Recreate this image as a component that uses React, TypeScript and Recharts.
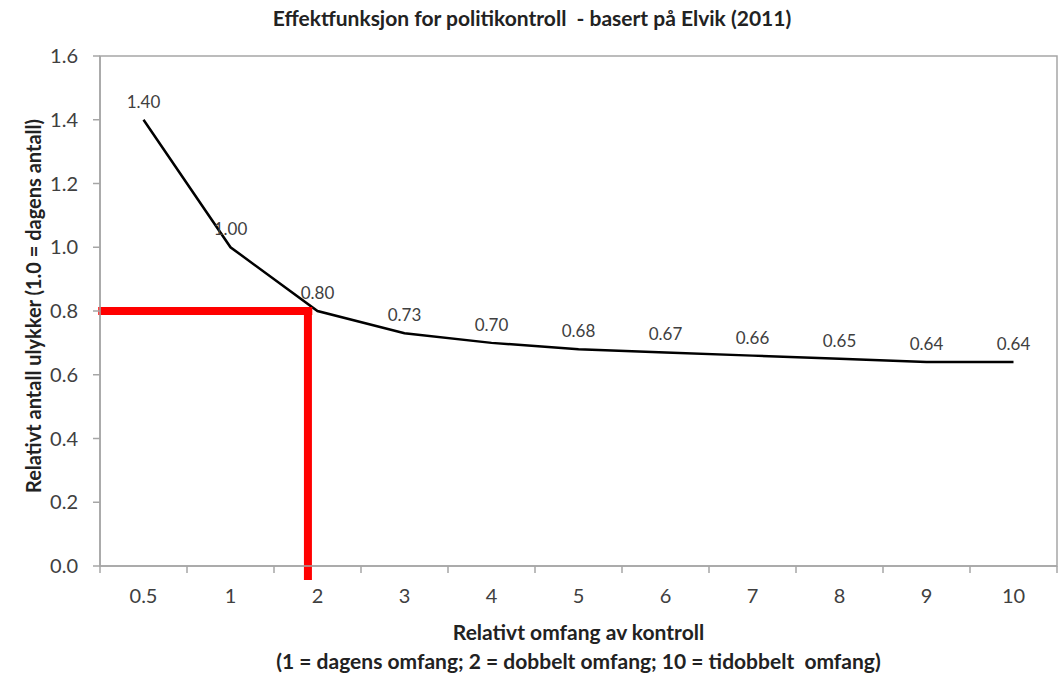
import React from 'react';
import { LineChart, Line, XAxis, YAxis, ReferenceLine, ReferenceArea, LabelList } from 'recharts';

const categories = ['0.5', '1', '2', '3', '4', '5', '6', '7', '8', '9', '10'];
const values = [1.4, 1.0, 0.8, 0.73, 0.7, 0.68, 0.67, 0.66, 0.65, 0.64, 0.64];
const yTicks = [0, 0.2, 0.4, 0.6, 0.8, 1.0, 1.2, 1.4, 1.6];

// annotation (red guide lines) in band units of the x axis and y values
const annotY = 0.8;
const annotX = 2.39;
const annotXStart = -0.02;
const annotXEnd = 2.44;
const annotYTop = 0.8125;
const annotYBottom = -0.044;

const data = categories.map((c, i) => ({ x: c, y: values[i] }));

const W = 1064;
const H = 673;
const PLOT_LEFT = 100;
const PLOT_RIGHT = 1057;
const PLOT_TOP = 56;
const PLOT_BOTTOM = 566;
const X_AXIS_H = 40;
const HALF = (PLOT_RIGHT - PLOT_LEFT) / categories.length / 2;
const FONT = 'Lato, "Open Sans", sans-serif';
const AXIS_GRAY = '#a6a6a6';
const TEXT = '#404040';

const XTick = (props: any) => {
  const { x, y, payload, index } = props;
  const last = index === categories.length - 1;
  return (
    <g>
      <line x1={x - HALF} x2={x - HALF} y1={y} y2={y + 7} stroke={AXIS_GRAY} strokeWidth={1.5} />
      {last && <line x1={x + HALF} x2={x + HALF} y1={y} y2={y + 7} stroke={AXIS_GRAY} strokeWidth={1.5} />}
      <text x={x} y={y + 37} textAnchor="middle" fill={TEXT} fontSize={20} fontFamily={FONT}>
        {payload.value}
      </text>
    </g>
  );
};

const titleStyle: React.CSSProperties = {
  position: 'absolute',
  fontWeight: 700,
  color: '#222',
  whiteSpace: 'pre',
};

export default function App() {
  return (
    <div style={{ position: 'absolute', left: 0, top: 0, width: W, height: H, background: '#fff', fontFamily: FONT }}>
      <LineChart
        width={W}
        height={H}
        data={data}
        margin={{ top: PLOT_TOP, right: W - PLOT_RIGHT, bottom: H - PLOT_BOTTOM - X_AXIS_H, left: 0 }}
      >
        <XAxis
          dataKey="x"
          type="category"
          scale="band"
          height={X_AXIS_H}
          tickLine={false}
          tickSize={0}
          tickMargin={0}
          interval={0}
          axisLine={{ stroke: AXIS_GRAY, strokeWidth: 1.5 }}
          tick={<XTick />}
        />
        <XAxis xAxisId="ann" dataKey="ann" type="number" domain={[0, 11]} allowDataOverflow hide />
        <YAxis
          width={PLOT_LEFT}
          domain={[0, 1.6]}
          ticks={yTicks}
          interval={0}
          tickFormatter={(v: number) => v.toFixed(1)}
          tickSize={7}
          tickMargin={15}
          axisLine={{ stroke: AXIS_GRAY, strokeWidth: 1.5 }}
          tickLine={{ stroke: AXIS_GRAY, strokeWidth: 1.5 }}
          tick={{ fill: TEXT, fontSize: 20, fontFamily: FONT }}
        />
        <ReferenceArea y1={0} y2={1.6} fill="none" stroke={AXIS_GRAY} strokeWidth={1.5} ifOverflow="visible" />
        <Line
          dataKey="y"
          type="linear"
          stroke="#000"
          strokeWidth={2.5}
          dot={false}
          isAnimationActive={false}
        >
          <LabelList
            dataKey="y"
            position="top"
            offset={12}
            formatter={(v: any) => Number(v).toFixed(2)}
            style={{ fill: TEXT, fontSize: 17, fontFamily: FONT }}
          />
        </Line>
        <ReferenceLine
          xAxisId="ann"
          segment={[{ x: annotXStart, y: annotY }, { x: annotXEnd, y: annotY }]}
          stroke="#ff0000"
          strokeWidth={8}
          ifOverflow="visible"
        />
        <ReferenceLine
          xAxisId="ann"
          segment={[{ x: annotX, y: annotYTop }, { x: annotX, y: annotYBottom }]}
          stroke="#ff0000"
          strokeWidth={8}
          ifOverflow="visible"
        />
      </LineChart>
      <div style={{ ...titleStyle, left: 0, top: 6, width: W, textAlign: 'center', fontSize: 21, lineHeight: '24px' }}>
        {'Effektfunksjon for politikontroll  - basert på Elvik (2011)'}
      </div>
      <div style={{ ...titleStyle, left: PLOT_LEFT, top: 620, width: PLOT_RIGHT - PLOT_LEFT, textAlign: 'center', fontSize: 21, lineHeight: '24px' }}>
        Relativt omfang av kontroll
      </div>
      <div style={{ ...titleStyle, left: PLOT_LEFT, top: 649, width: PLOT_RIGHT - PLOT_LEFT, textAlign: 'center', fontSize: 21, lineHeight: '24px' }}>
        {'(1 = dagens omfang; 2 = dobbelt omfang; 10 = tidobbelt  omfang)'}
      </div>
      <div style={{ ...titleStyle, left: 33, top: 306, transform: 'translate(-50%, -50%) rotate(-90deg)', fontSize: 20, lineHeight: '24px' }}>
        Relativt antall ulykker (1.0 = dagens antall)
      </div>
    </div>
  );
}
